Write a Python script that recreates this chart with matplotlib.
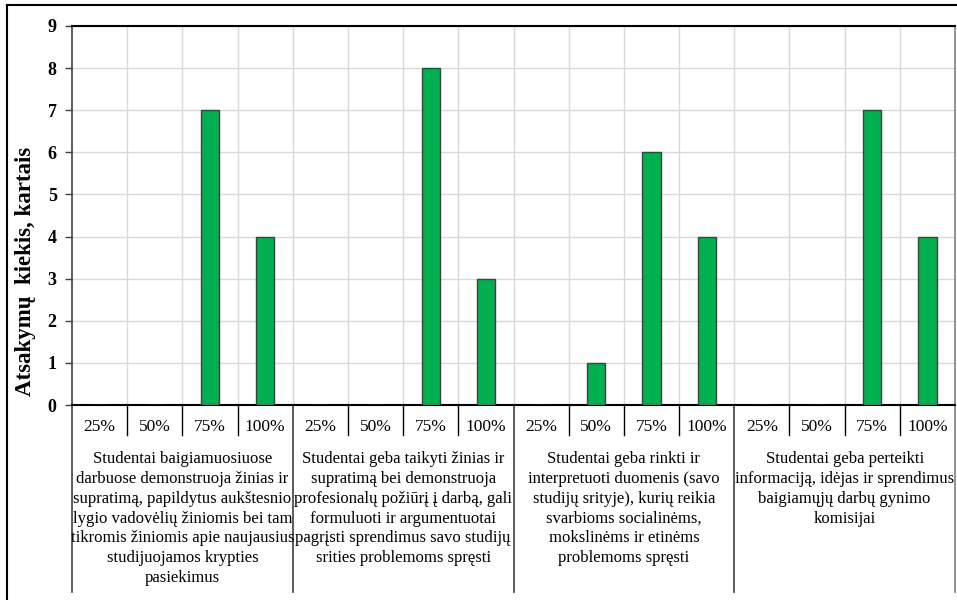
import matplotlib
matplotlib.use("Agg")
import matplotlib.pyplot as plt
from matplotlib.lines import Line2D
import matplotlib.transforms as mtransforms

plt.rcParams['font.family'] = ['Liberation Serif', 'DejaVu Serif']

# data
levels = ["25%", "50%", "75%", "100%"]
groups = [
    "Studentai baigiamuosiuose\ndarbuose demonstruoja žinias ir\nsupratimą, papildytus aukštesnio\n"
    "lygio vadovėlių žiniomis bei tam\ntikromis žiniomis apie naujausius\nstudijuojamos krypties\npasiekimus",
    "Studentai geba taikyti žinias ir\nsupratimą bei demonstruoja\nprofesionalų požiūrį į darbą, gali\n"
    "formuluoti ir argumentuotai\npagrįsti sprendimus savo studijų\nsrities problemoms spręsti",
    "Studentai geba rinkti ir\ninterpretuoti duomenis (savo\nstudijų srityje), kurių reikia\n"
    "svarbioms socialinėms,\nmokslinėms ir etinėms\nproblemoms spręsti",
    "Studentai geba perteikti\ninformaciją, idėjas ir sprendimus\nbaigiamųjų darbų gynimo\nkomisijai",
]
counts = [
    [0, 0, 7, 4],
    [0, 0, 8, 3],
    [0, 1, 6, 4],
    [0, 0, 7, 4],
]
y_label = "Atsakymų  kiekis, kartais"

W, H = 957, 600
fig = plt.figure(figsize=(W / 100, H / 100), dpi=100)
ax = fig.add_axes([72 / W, (H - 405) / H, 883 / W, 379 / H])

n_lev = len(levels)
n_cat = len(groups) * n_lev
xs = [g * n_lev + i + 0.5 for g in range(len(groups)) for i in range(n_lev)]
vals = [v for row in counts for v in row]
ax.bar(xs, vals, width=0.33, color="#00B050", edgecolor="#404040", linewidth=1.0, zorder=3)

ax.set_xlim(0, n_cat)
ax.set_ylim(0, 9)
ax.set_yticks(range(10))
ax.set_yticklabels([str(v) for v in range(10)], fontsize=13, fontweight="bold")
ax.tick_params(axis="y", direction="out", length=5, width=1, color="#404040", pad=6)
ax.set_xticks([])

# light grid
for y in range(1, 10):
    ax.axhline(y, color="#d9d9d9", linewidth=1, zorder=1)
for x in range(1, n_cat):
    ax.axvline(x, color="#d9d9d9", linewidth=1, zorder=1)

ax.spines["top"].set_color("#000000")
ax.spines["top"].set_linewidth(1.5)
ax.spines["right"].set_color("#7f7f7f")
ax.spines["right"].set_linewidth(1.2)
ax.spines["left"].set_color("#404040")
ax.spines["left"].set_linewidth(1.2)
ax.spines["bottom"].set_color("#000000")
ax.spines["bottom"].set_linewidth(1.5)

# multi-level category axis below the plot
trans = mtransforms.blended_transform_factory(ax.transData, ax.transAxes)
px = 1 / 379.0
tick_bottom = -30 * px
group_bottom = -187 * px
for x in range(0, n_cat + 1):
    if x % n_lev == 0:
        col = "#7f7f7f" if x == n_cat else "#404040"
        ax.add_line(Line2D([x, x], [0, group_bottom], transform=trans, color=col,
                           linewidth=1.2, clip_on=False))
    else:
        ax.add_line(Line2D([x, x], [0, tick_bottom], transform=trans, color="#000000",
                           linewidth=1.0, clip_on=False))

for x, lab in zip(xs, levels * len(groups)):
    ax.text(x, -22 * px, lab, transform=trans, ha="center", va="center", fontsize=12.5)

for g, lab in enumerate(groups):
    ax.text(g * n_lev + n_lev / 2, -46 * px, lab, transform=trans, ha="center", va="top",
            fontsize=12, linespacing=1.32)

fig.text(26 / W, 1 - 271 / H, y_label, rotation=90, ha="center", va="center",
         fontsize=16.5, fontweight="bold")

# outer chart border (cut at right and bottom like the reference)
fig.add_artist(Line2D([7 / W, 7 / W], [0, 1 - 5 / H], transform=fig.transFigure,
                      color="#000000", linewidth=1.5))
fig.add_artist(Line2D([7 / W, 1], [1 - 5 / H, 1 - 5 / H], transform=fig.transFigure,
                      color="#000000", linewidth=1.5))

fig.savefig("out.png", dpi=100)
